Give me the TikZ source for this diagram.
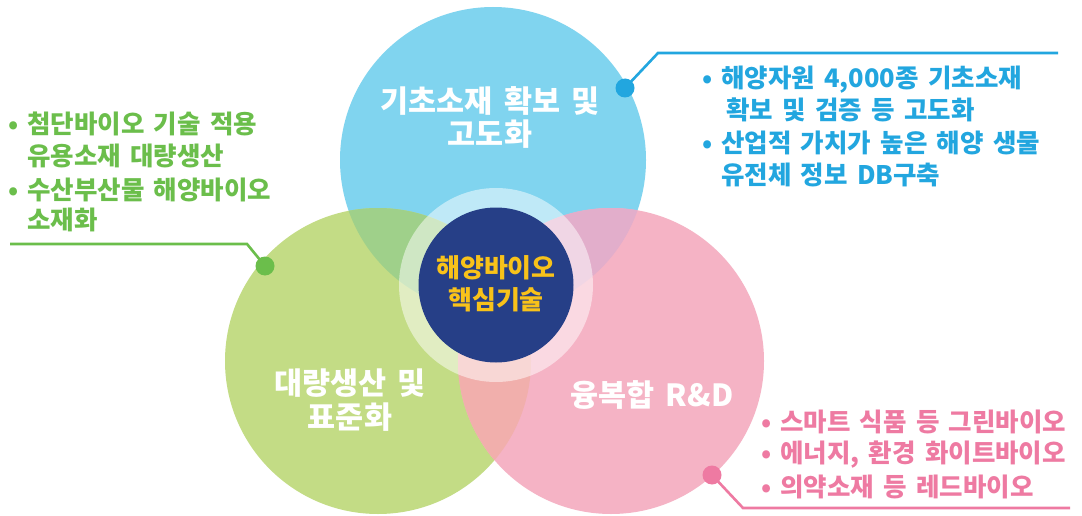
\documentclass[tikz,border=0pt]{standalone}
\usepackage{fontspec}
\setmainfont{Noto Sans CJK KR}[WordSpace=1.6]
\definecolor{cblue}{HTML}{80D4EF}
\definecolor{cgreen}{HTML}{C3DC85}
\definecolor{cpink}{HTML}{F5B3C5}
\definecolor{cbg}{HTML}{9FD08A}
\definecolor{cbp}{HTML}{E2AECB}
\definecolor{cgp}{HTML}{F1AFAC}
\definecolor{cnavy}{HTML}{263F87}
\definecolor{cyel}{HTML}{F8C21A}
\definecolor{tblue}{HTML}{22A6DF}
\definecolor{tgreen}{HTML}{6BBE4B}
\definecolor{tpink}{HTML}{EE7AA2}
\begin{document}
\begin{tikzpicture}[x=1pt,y=-1pt,
  bigc/.style={circle,minimum size=306pt,inner sep=0pt},
  title/.style={anchor=base,text=white,font=\bfseries\fontsize{30.5}{32}\selectfont,inner sep=0pt},
  ctext/.style={anchor=base,text=cyel,font=\bfseries\fontsize{26}{28}\selectfont,inner sep=0pt},
  call/.style={anchor=base west,font=\bfseries\fontsize{25.5}{27}\selectfont,inner sep=0pt},
  bul/.style={anchor=base,font=\bfseries\fontsize{25.5}{27}\selectfont,inner sep=0pt},
  dot/.style={circle,minimum size=19pt,inner sep=0pt},
  lead/.style={line width=2.6pt}]
\useasboundingbox (0,0) rectangle (1082,516);
\fill[white] (0,0) rectangle (1082,516);
% main circles
\node[bigc,fill=cblue] (B) at (493,160) {};
\node[bigc,fill=cgreen] (G) at (378,361) {};
\node[bigc,fill=cpink] (P) at (611,361) {};
% overlaps
\begin{scope}
  \clip (493,160) circle (153pt);
  \fill[cbg] (378,361) circle (153pt);
  \fill[cbp] (611,361) circle (153pt);
\end{scope}
\begin{scope}
  \clip (378,361) circle (153pt);
  \fill[cgp] (611,361) circle (153pt);
\end{scope}
% center
\node[circle,minimum size=194pt,inner sep=0pt,fill=white,fill opacity=0.5] (R) at (496,285) {};
\node[circle,minimum size=155pt,inner sep=0pt,fill=cnavy] (C) at (496,285) {};
\node[ctext] (c1) at (496,277) {해양바이오};
\node[ctext] (c2) at (496,309) {핵심기술};
% titles
\node[title] (t1) at (490,113) {기초소재 확보 및};
\node[title] (t2) at (490,146) {고도화};
\node[title] (t3) at (350,394) {대량생산 및};
\node[title] (t4) at (350,428) {표준화};
\node[title] (t5) at (652,406) {융복합 R\&D};
% blue callout
\coordinate (bk) at (658,53);
\coordinate (be) at (1058,53);
\draw[lead,tblue] (625,88) -- (bk) -- (be);
\node[dot,fill=tblue] (bd) at (625,88) {};
\begin{scope}[text=tblue]
\node[bul] (bb1) at (708,88) {•};
\node[call] (b1) at (721,88) {해양자원 4,000종 기초소재};
\node[call] (b2) at (726,120) {확보 및 검증 등 고도화};
\node[bul] (bb3) at (708,153) {•};
\node[call] (b3) at (721,153) {산업적 가치가 높은 해양 생물};
\node[call] (b4) at (721,184) {유전체 정보 DB구축};
\end{scope}
% green callout
\coordinate (gk) at (247,244);
\coordinate (ge) at (10,244);
\draw[lead,tgreen] (265,266) -- (gk) -- (ge);
\node[dot,fill=tgreen] (gd) at (265,266) {};
\begin{scope}[text=tgreen]
\node[bul] (gb1) at (14,134) {•};
\node[call] (g1) at (27,134) {첨단바이오 기술 적용};
\node[call] (g2) at (27,165) {유용소재 대량생산};
\node[bul] (gb3) at (14,199) {•};
\node[call] (g3) at (27,199) {수산부산물 해양바이오};
\node[call] (g4) at (27,229) {소재화};
\end{scope}
% pink callout
\coordinate (pk) at (743,508);
\coordinate (pe) at (1070,508);
\draw[lead,tpink] (712,475) -- (pk) -- (pe);
\node[dot,fill=tpink] (pd) at (712,475) {};
\begin{scope}[text=tpink]
\node[bul] (pb1) at (767,431) {•};
\node[call] (p1) at (780,431) {스마트 식품 등 그린바이오};
\node[bul] (pb2) at (767,462) {•};
\node[call] (p2) at (780,462) {에너지, 환경 화이트바이오};
\node[bul] (pb3) at (767,496) {•};
\node[call] (p3) at (780,496) {의약소재 등 레드바이오};
\end{scope}
\end{tikzpicture}
\end{document}
